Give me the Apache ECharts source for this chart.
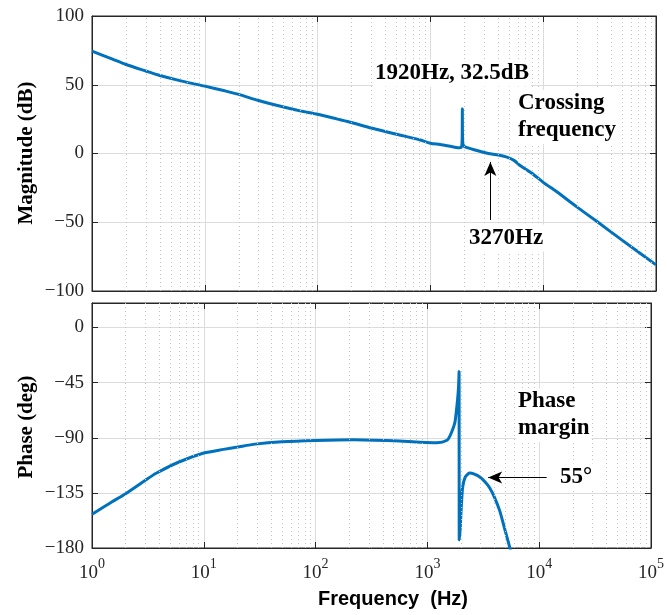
<!DOCTYPE html>
<html>
<head>
<meta charset="utf-8">
<script src="https://cdn.jsdelivr.net/npm/echarts@6/dist/echarts.min.js"></script>
<style>
  html, body { margin: 0; padding: 0; background: #fff; }
  #chart { width: 667px; height: 615px; }
</style>
</head>
<body>
<div id="chart"></div>
<script>
// 幅值曲线 (Hz, dB)
const magFreq = [1, 1.5, 2, 3, 4, 6, 10, 15, 20, 30, 50, 70, 100, 150, 200, 300, 500, 800, 1000, 1217, 1600, 1800, 1880, 1905, 1915, 1920, 1925, 1940, 1980, 2026, 2400, 2943, 3270, 4000, 4700, 5500, 6200, 7000, 8000, 10000, 13000, 20000, 30000, 50000, 100000];
const magDb = [74.5, 68.8, 64.7, 60, 56.7, 53, 49, 45.6, 43, 38.5, 33.8, 31, 28.5, 25, 22.5, 18.5, 14, 10, 7.5, 6.5, 4.8, 4.1, 4.6, 7, 14, 32.5, 14, 7, 5.5, 4.8, 2.9, 0.9, 0, -1.1, -2.5, -5, -8.5, -11.5, -14.5, -21, -27.5, -39, -49.5, -63, -81];

// 相位曲线 (Hz, deg)
const phaseFreq = [1, 1.5, 1.9, 3, 3.75, 6, 10, 15, 20, 28.8, 50, 100, 222, 500, 865, 1217, 1500, 1600, 1711, 1767, 1860, 1900, 1920, 1925, 1960, 1990, 2026, 2068, 2168, 2323, 2400, 2600, 2943, 3270, 3612, 4000, 4430, 4900, 5433, 6000];
const phaseDeg = [-152.5, -142.4, -137, -124.7, -119, -109.8, -102.5, -99.5, -97.6, -95.2, -93.3, -92.2, -91.6, -92.5, -93.6, -94, -92, -88, -81.4, -77, -59, -48, -36, -173.5, -166, -154, -141, -130.2, -122.5, -119.3, -118.8, -119.5, -122, -126, -131, -139, -149.5, -164, -179, -195];

// 刻度
const magTicks = { min: -100, max: 100, interval: 50 };
const phaseTicks = { min: -180, max: 20, interval: 45 };
const freqRange = { min: 1, max: 100000 };

// 次网格线 (2..9 × 10^k)
const minorFreqs = [];
for (let k = 0; k < 5; k++) {
  for (let m = 2; m <= 9; m++) minorFreqs.push(m * Math.pow(10, k));
}

const serif = '"Liberation Serif", "Times New Roman", serif';
const axisColor = '#262626';
const lineColor = '#0072BD';

function minus(v) {
  return String(v).replace('-', '\u2212');
}

function xAxisCfg(gridIndex, withLabels, position) {
  return {
    type: 'log',
    logBase: 10,
    gridIndex: gridIndex,
    position: position,
    min: freqRange.min,
    max: freqRange.max,
    axisLine: { show: true, onZero: false, lineStyle: { color: axisColor, width: 1 } },
    axisTick: { show: true, inside: true, length: 6, lineStyle: { color: axisColor } },
    splitLine: { show: position === 'bottom', lineStyle: { color: '#dcdcdc', width: 1 } },
    axisLabel: {
      show: withLabels,
      margin: 9,
      formatter: function (v) {
        return '{b|10}{s|' + Math.round(Math.log10(v)) + '}';
      },
      rich: {
        b: { fontFamily: serif, fontSize: 19, color: axisColor, verticalAlign: 'bottom', lineHeight: 26 },
        s: { fontFamily: serif, fontSize: 14, color: axisColor, verticalAlign: 'top', lineHeight: 26, padding: [0, 0, 8, 0] }
      }
    }
  };
}

function yAxisCfg(gridIndex, ticks, withLabels, position) {
  return {
    type: 'value',
    gridIndex: gridIndex,
    position: position,
    min: ticks.min,
    max: ticks.max,
    interval: ticks.interval,
    axisLine: { show: true, lineStyle: { color: axisColor, width: 1 } },
    axisTick: { show: true, inside: true, length: 6, lineStyle: { color: axisColor } },
    splitLine: { show: position === 'left', lineStyle: { color: '#dcdcdc', width: 1 } },
    axisLabel: {
      show: withLabels,
      margin: 8,
      fontFamily: serif,
      fontSize: 19,
      color: axisColor,
      formatter: function (v) {
        // 相位轴顶端 20 不显示
        return v === ticks.max && ticks.max % ticks.interval !== 0 ? '' : minus(v);
      }
    }
  };
}

function minorGridSeries(xi, yi) {
  return {
    type: 'line',
    xAxisIndex: xi,
    yAxisIndex: yi,
    data: [],
    silent: true,
    z: 1,
    markLine: {
      silent: true,
      symbol: 'none',
      animation: false,
      label: { show: false },
      lineStyle: { type: [1, 3], color: '#c4c4c4', width: 1 },
      data: minorFreqs.map(function (f) { return { xAxis: f }; })
    }
  };
}

function note(text, x, y) {
  return {
    type: 'text', x: x, y: y, z: 10,
    style: {
      text: text, font: 'bold 23px ' + serif, fill: '#000',
      align: 'left', verticalAlign: 'middle', lineHeight: 27,
      backgroundColor: '#fff', padding: [0, 2]
    }
  };
}

const arrowLine = { type: 'solid', color: '#000', width: 1 };
const curveStyle = { color: lineColor, width: 3 };

const chart = echarts.init(document.getElementById('chart'));
chart.setOption({
  animation: false,
  backgroundColor: '#fff',
  grid: [
    { left: 92, top: 16, width: 564, height: 275, show: true, borderColor: axisColor, borderWidth: 1, backgroundColor: 'transparent' },
    { left: 92, top: 303, width: 564, height: 245, show: true, borderColor: axisColor, borderWidth: 1, backgroundColor: 'transparent' }
  ],
  xAxis: [
    xAxisCfg(0, false, 'bottom'),
    xAxisCfg(0, false, 'top'),
    xAxisCfg(1, true, 'bottom'),
    xAxisCfg(1, false, 'top')
  ],
  yAxis: [
    yAxisCfg(0, magTicks, true, 'left'),
    yAxisCfg(0, magTicks, false, 'right'),
    yAxisCfg(1, phaseTicks, true, 'left'),
    yAxisCfg(1, phaseTicks, false, 'right')
  ],
  series: [
    minorGridSeries(0, 0),
    minorGridSeries(2, 2),
    {
      name: 'Magnitude',
      type: 'line',
      xAxisIndex: 0,
      yAxisIndex: 0,
      data: magFreq.map(function (f, i) { return [f, magDb[i]]; }),
      showSymbol: false,
      smooth: 0.25,
      clip: true,
      z: 3,
      lineStyle: curveStyle,
      markLine: {
        silent: true,
        symbol: ['none', 'arrow'],
        symbolSize: [9, 14],
        label: { show: false },
        lineStyle: arrowLine,
        data: [[{ coord: [3400, -48.3] }, { coord: [3400, -6.1] }]]
      }
    },
    {
      name: 'Phase',
      type: 'line',
      xAxisIndex: 2,
      yAxisIndex: 2,
      data: phaseFreq.map(function (f, i) { return [f, phaseDeg[i]]; }),
      showSymbol: false,
      smooth: 0.25,
      clip: true,
      z: 3,
      lineStyle: curveStyle,
      markLine: {
        silent: true,
        symbol: ['none', 'arrow'],
        symbolSize: [9, 14],
        label: { show: false },
        lineStyle: arrowLine,
        data: [[{ coord: [11660, -122.5] }, { coord: [3494, -122.5] }]]
      }
    }
  ],
  graphic: [
    { type: 'text', x: 27, y: 153, rotation: Math.PI / 2,
      style: { text: 'Magnitude (dB)', font: 'bold 21px ' + serif, fill: '#000', align: 'center', verticalAlign: 'middle' } },
    { type: 'text', x: 27, y: 427, rotation: Math.PI / 2,
      style: { text: 'Phase (deg)', font: 'bold 21px ' + serif, fill: '#000', align: 'center', verticalAlign: 'middle' } },
    { type: 'text', x: 393, y: 599,
      style: { text: 'Frequency  (Hz)', font: 'bold 20px "Liberation Sans", Arial, sans-serif', fill: '#000', align: 'center', verticalAlign: 'middle' } },
    note('1920Hz, 32.5dB', 373, 73),
    note('Crossing\nfrequency', 516, 117),
    note('3270Hz', 467, 238),
    note('Phase\nmargin', 516, 415),
    note('55°', 558, 477)
  ]
});
</script>
</body>
</html>
